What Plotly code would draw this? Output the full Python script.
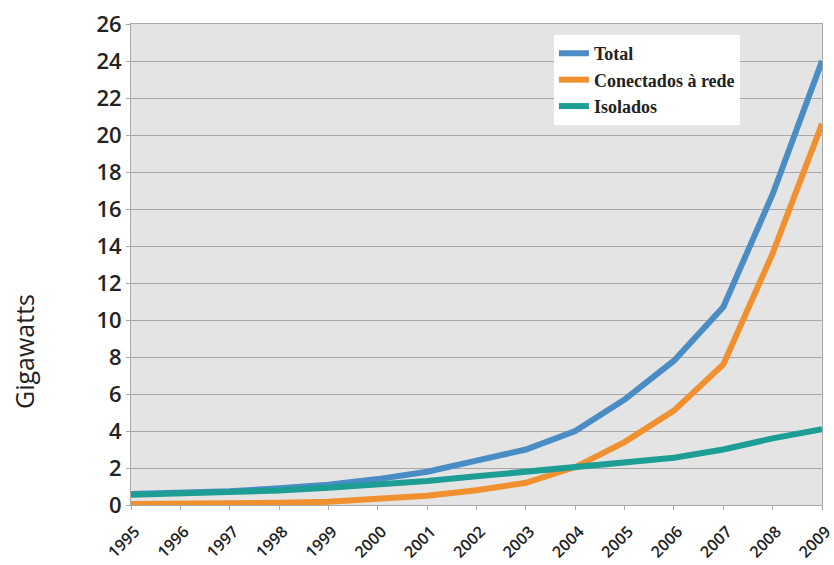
import plotly.graph_objects as go

years = list(range(1995, 2010))
total = [0.6, 0.65, 0.75, 0.9, 1.1, 1.4, 1.8, 2.4, 3.0, 4.0, 5.7, 7.8, 10.7, 16.8, 24.0]
conectados = [0.05, 0.05, 0.08, 0.12, 0.17, 0.3, 0.5, 0.8, 1.2, 2.05, 3.4, 5.1, 7.6, 13.6, 20.6]
isolados = [0.55, 0.6, 0.68, 0.78, 0.93, 1.1, 1.3, 1.55, 1.8, 2.05, 2.27, 2.55, 3.0, 3.6, 4.1]
y_ticks = list(range(0, 27, 2))

series = [
    ("Total", total, "#4a8cc4"),
    ("Conectados à rede", conectados, "#f0902f"),
    ("Isolados", isolados, "#1c9e94"),
]

fig = go.Figure()
for name, vals, color in series:
    fig.add_trace(go.Scatter(x=years, y=vals, mode="lines", name=name,
                             legendgroup=name,
                             line=dict(color=color, width=6)))

fig.add_annotation(
    text="Gigawatts", textangle=-90,
    xref="paper", yref="paper", x=-0.155, y=0.32,
    xanchor="center", yanchor="middle", showarrow=False,
    font=dict(family="Open Sans", size=25, color="#222222"),
)

fig.update_layout(
    width=834, height=565,
    margin=dict(l=131, r=12, t=24, b=60),
    paper_bgcolor="white",
    plot_bgcolor="#e4e4e4",
    showlegend=True,
    legend=dict(
        x=0.612, y=0.977, xanchor="left", yanchor="top",
        bgcolor="white",
        font=dict(family="Liberation Serif", size=18, color="#222222", weight="bold"),
        itemwidth=30, tracegroupgap=0,
    ),
    xaxis=dict(
        range=[1995, 2009],
        automargin=False,
        tickmode="array", tickvals=years, ticktext=[str(y) for y in years],
        tickangle=-45,
        tickfont=dict(family="Open Sans", size=16, color="#222222", weight=600),
        ticklabelstandoff=6, ticklabelshift=4, ticklabeloverflow="allow",
        showgrid=False,
        showline=True, linecolor="#a8a8a8", linewidth=1, mirror=True,
        ticks="outside", ticklen=4, tickcolor="#a8a8a8",
        zeroline=False,
    ),
    yaxis=dict(
        range=[0, 26],
        automargin=False,
        tickmode="array", tickvals=y_ticks,
        tickfont=dict(family="Open Sans", size=22, color="#222222", weight=600),
        showgrid=True, gridcolor="#a8a8a8", gridwidth=1,
        showline=True, linecolor="#a8a8a8", linewidth=1, mirror=True,
        ticks="outside", ticklen=4, tickcolor="#a8a8a8",
        zeroline=False,
    ),
)

fig.write_html("out.html")
